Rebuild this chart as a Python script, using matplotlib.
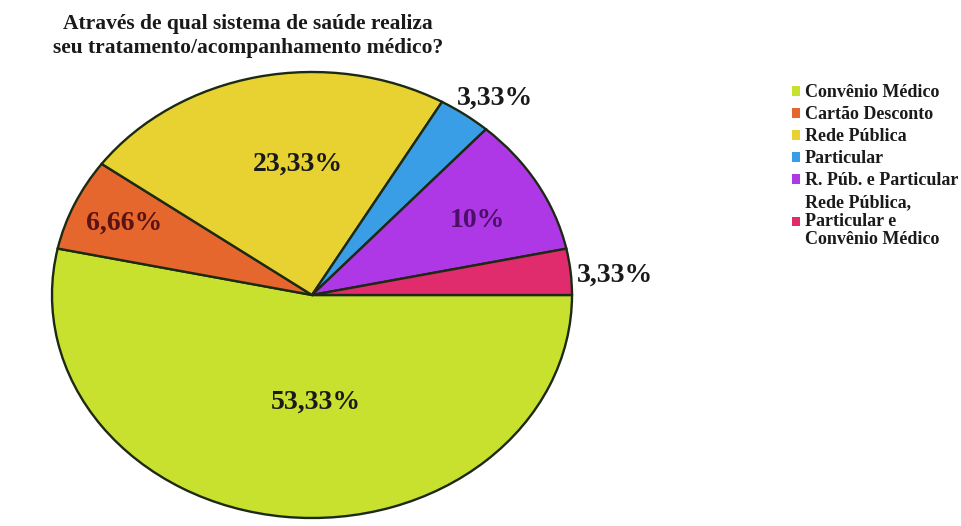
import numpy as np
import matplotlib.pyplot as plt
from matplotlib.patches import Patch

plt.rcParams['font.family'] = ['Liberation Serif', 'DejaVu Serif']

labels = ['Convênio Médico', 'Cartão Desconto', 'Rede Pública', 'Particular',
          'R. Púb. e Particular', 'Rede Pública,\nParticular e\nConvênio Médico']
values = [53.33, 6.66, 23.33, 3.33, 10, 3.33]
pct_text = ['53,33%', '6,66%', '23,33%', '3,33%', '10%', '3,33%']
colors = ['#c8e02e', '#e6672e', '#e8d232', '#3a9ee6', '#ae38e6', '#e02c6c']
text_colors = ['#1a1a1a', '#5a1212', '#1a1a1a', '#1a1a1a', '#4a1068', '#1a1a1a']
# label placement: radius and fraction across the wedge angle
label_r = [0.48, 0.79, 0.59, 1.13, 0.72, 1.17]
label_f = [0.54, 0.5, 0.42, 0.28, 0.44, 0.37]

fig = plt.figure(figsize=(9.61, 5.26), dpi=100)
W, H = 961, 526
cx, cy, rx, ry = 312, 295, 260, 223
lim = 1.1
ax = fig.add_axes([(cx - rx * lim) / W, (H - cy - ry * lim) / H,
                   2 * rx * lim / W, 2 * ry * lim / H])

wedges, _ = ax.pie(values, colors=colors, startangle=0, counterclock=False,
                   wedgeprops=dict(edgecolor='#1c2a14', linewidth=1.7))
ax.set_aspect('auto')
ax.set_xlim(-lim, lim)
ax.set_ylim(-lim, lim)

for w, t, c, r, f in zip(wedges, pct_text, text_colors, label_r, label_f):
    ang = np.deg2rad(w.theta1 + f * (w.theta2 - w.theta1))
    ax.text(r * np.cos(ang), r * np.sin(ang), t, ha='center', va='center',
            fontsize=20, fontweight='bold', color=c)

fig.text(248 / W, 1 - 36 / H,
         'Através de qual sistema de saúde realiza\nseu tratamento/acompanhamento médico?',
         ha='center', va='center', fontsize=15.5, fontweight='bold',
         color='#1a1a1a', linespacing=1.25)

handles = [Patch(facecolor=c, edgecolor='none') for c in colors]
leg = fig.legend(handles, labels, loc='upper left', bbox_to_anchor=(776 / W, 1 - 68 / H),
                 frameon=False, handlelength=0.45, handleheight=0.45, handletextpad=0.25,
                 labelspacing=0.28, prop=dict(size=13, weight='bold'),
                 labelcolor='#1a1a1a')
for t in leg.get_texts():
    t.set_linespacing(1.1)

fig.savefig('out.png', dpi=100, facecolor='white')
